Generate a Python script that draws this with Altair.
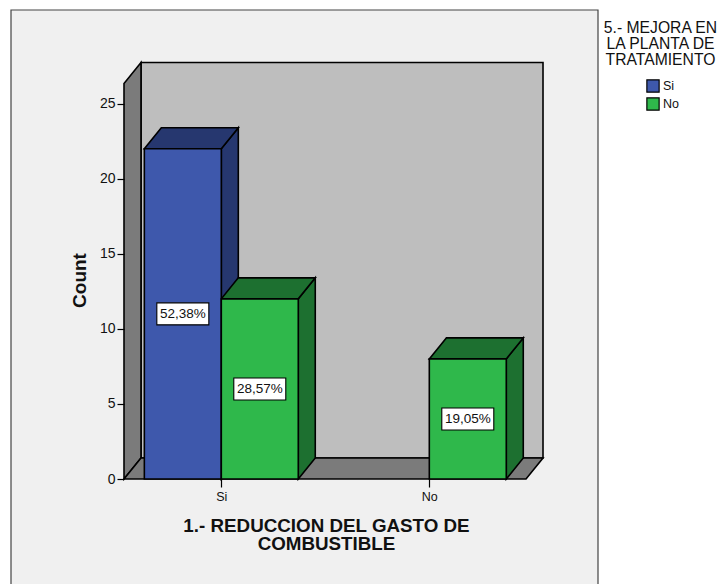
import altair as alt
import pandas as pd

categories = ["Si", "No"]
cat_pos = [0, 1]
series_names = ["Si", "No"]
series_colors = ["#3e58ac", "#2fb84b"]
series_dark = ["#26376f", "#1d7030"]
bar_cat = [0, 0, 1]
bar_series = ["Si", "No", "No"]
bar_values = [22, 12, 8]
bar_labels = ["52,38%", "28,57%", "19,05%"]
yticks = [0, 5, 10, 15, 20, 25]

BW = 0.37      # bar width in category units
DX = 0.0817    # 3D depth, category units
DY = 1.4       # 3D depth, count units
WALL_L, WALL_R, WALL_T = -0.4678, 1.5466, 26.34

FONT = "Liberation Sans"
xs = alt.Scale(domain=[-1.0255, 2.3879], range=[0, 710], nice=False, zero=False)
ys = alt.Scale(domain=[-6.99, 31.37], range=[576, 0], nice=False, zero=False)
X = lambda f: alt.X(f, type="quantitative", scale=xs)
Y = lambda f: alt.Y(f, type="quantitative", scale=ys)
X2 = lambda f: alt.X2(f)
Y2 = lambda f: alt.Y2(f)
LW = 1.6


def side(x, v0, v1, fill):
    """Vertical-edged parallelogram going back in depth."""
    d = pd.DataFrame({"x": [x, x + DX], "y": [v0, v0 + DY], "y2": [v1, v1 + DY]})
    return alt.Chart(d).mark_area(fill=fill, stroke="black", strokeWidth=LW, opacity=1).encode(
        x=X("x"), y=Y("y"), y2=Y2("y2"))


def top(x0, x1, v, fill):
    """Horizontal-edged parallelogram going back in depth."""
    d = pd.DataFrame({"y": [v, v + DY], "x": [x0, x0 + DX], "x2": [x1, x1 + DX]})
    return alt.Chart(d).mark_area(fill=fill, stroke="black", strokeWidth=LW, opacity=1, orient="horizontal").encode(
        y=Y("y"), x=X("x"), x2=X2("x2"))


panel = alt.Chart(pd.DataFrame({"a": [0]})).mark_rect(fill="#f0f0f0", stroke="#444444", strokeWidth=1.2).encode(
    x=alt.value(3), x2=alt.value(590), y=alt.value(2), y2=alt.value(640))

back = alt.Chart(pd.DataFrame({"x": [WALL_L + DX], "x2": [WALL_R], "y": [DY], "y2": [WALL_T + DY]})).mark_rect(
    fill="#bebebe", stroke="black", strokeWidth=LW).encode(x=X("x"), x2=X2("x2"), y=Y("y"), y2=Y2("y2"))
left_wall = side(WALL_L, 0, WALL_T, "#7b7b7b")
floor = top(WALL_L, WALL_R - DX, 0, "#7b7b7b")

layers = [panel, back, left_wall, floor]

rows = []
for c, s, v, lab in zip(bar_cat, bar_series, bar_values, bar_labels):
    x0 = cat_pos[c] + (-BW if s == "Si" else 0)
    i = series_names.index(s)
    rows.append(dict(x=x0, x2=x0 + BW, y=0, y2=v, serie=s, cx=x0 + BW / 2, cy=v / 2, lab=lab))
    layers.append(side(x0 + BW, 0, v, series_dark[i]))
    layers.append(top(x0, x0 + BW, v, series_dark[i]))
bars = pd.DataFrame(rows)

front = alt.Chart(bars).mark_bar(stroke="black", strokeWidth=LW, opacity=1).encode(
    x=alt.X("x:Q", scale=xs, title=["1.- REDUCCION DEL GASTO DE", "COMBUSTIBLE"], axis=alt.Axis(
        values=cat_pos, labelExpr="datum.value == 0 ? 'Si' : 'No'", offset=-105, tickSize=8, tickWidth=1.2,
        tickColor="black", domain=False, grid=False, labelFont=FONT, labelFontSize=12.5, labelColor="#111111",
        labelPadding=3, labelAngle=0, titleFont=FONT, titleFontSize=18.8, titleFontWeight="bold", titleColor="#111111",
        titleLineHeight=18, titleX=318, titleY=37, titleAnchor="middle", zindex=2)),
    x2=X2("x2"),
    y=alt.Y("y:Q", scale=ys, title="Count", axis=alt.Axis(
        values=yticks, offset=-116, tickSize=7, tickWidth=1.2, tickColor="black", domain=False, grid=False,
        labelFont=FONT, labelFontSize=14, labelColor="#111111", labelPadding=2,
        titleFont=FONT, titleFontSize=19, titleFontWeight="bold", titleColor="#111111",
        titleX=-35, titleY=272, zindex=2)),
    y2=Y2("y2"),
    color=alt.Color("serie:N", scale=alt.Scale(domain=series_names, range=series_colors), legend=alt.Legend(
        title=None, orient="none", legendX=638, legendY=71, symbolType="square", symbolSize=150,
        symbolStrokeColor="black", symbolStrokeWidth=1.2, symbolOpacity=1, labelFont=FONT, labelFontSize=12.5,
        labelColor="#111111", labelOffset=3, rowPadding=0, padding=0)),
)

boxes = alt.Chart(bars).mark_rect(width=52, height=22, fill="white", stroke="black", strokeWidth=1.1).encode(
    x=X("cx"), y=Y("cy"))
texts = alt.Chart(bars).mark_text(font=FONT, fontSize=13.5, color="#111111", baseline="middle", align="center").encode(
    x=X("cx"), y=Y("cy"), text="lab:N")

legend_title = alt.Chart(pd.DataFrame({"t": ["5.- MEJORA EN\nLA PLANTA DE\nTRATAMIENTO"]})).mark_text(
    font=FONT, fontSize=15.7, lineHeight=16, lineBreak="\n", align="center", baseline="top", color="#111111").encode(
    x=alt.value(652.5), y=alt.value(13), text="t:N")

layers += [front, boxes, texts, legend_title]

chart = alt.layer(*layers).properties(
    width=710, height=576, padding=0, autosize=alt.AutoSizeParams(type="none"), background="white",
).configure_view(stroke=None)

chart.save("out.html", embed_options={"renderer": "svg", "actions": False})
